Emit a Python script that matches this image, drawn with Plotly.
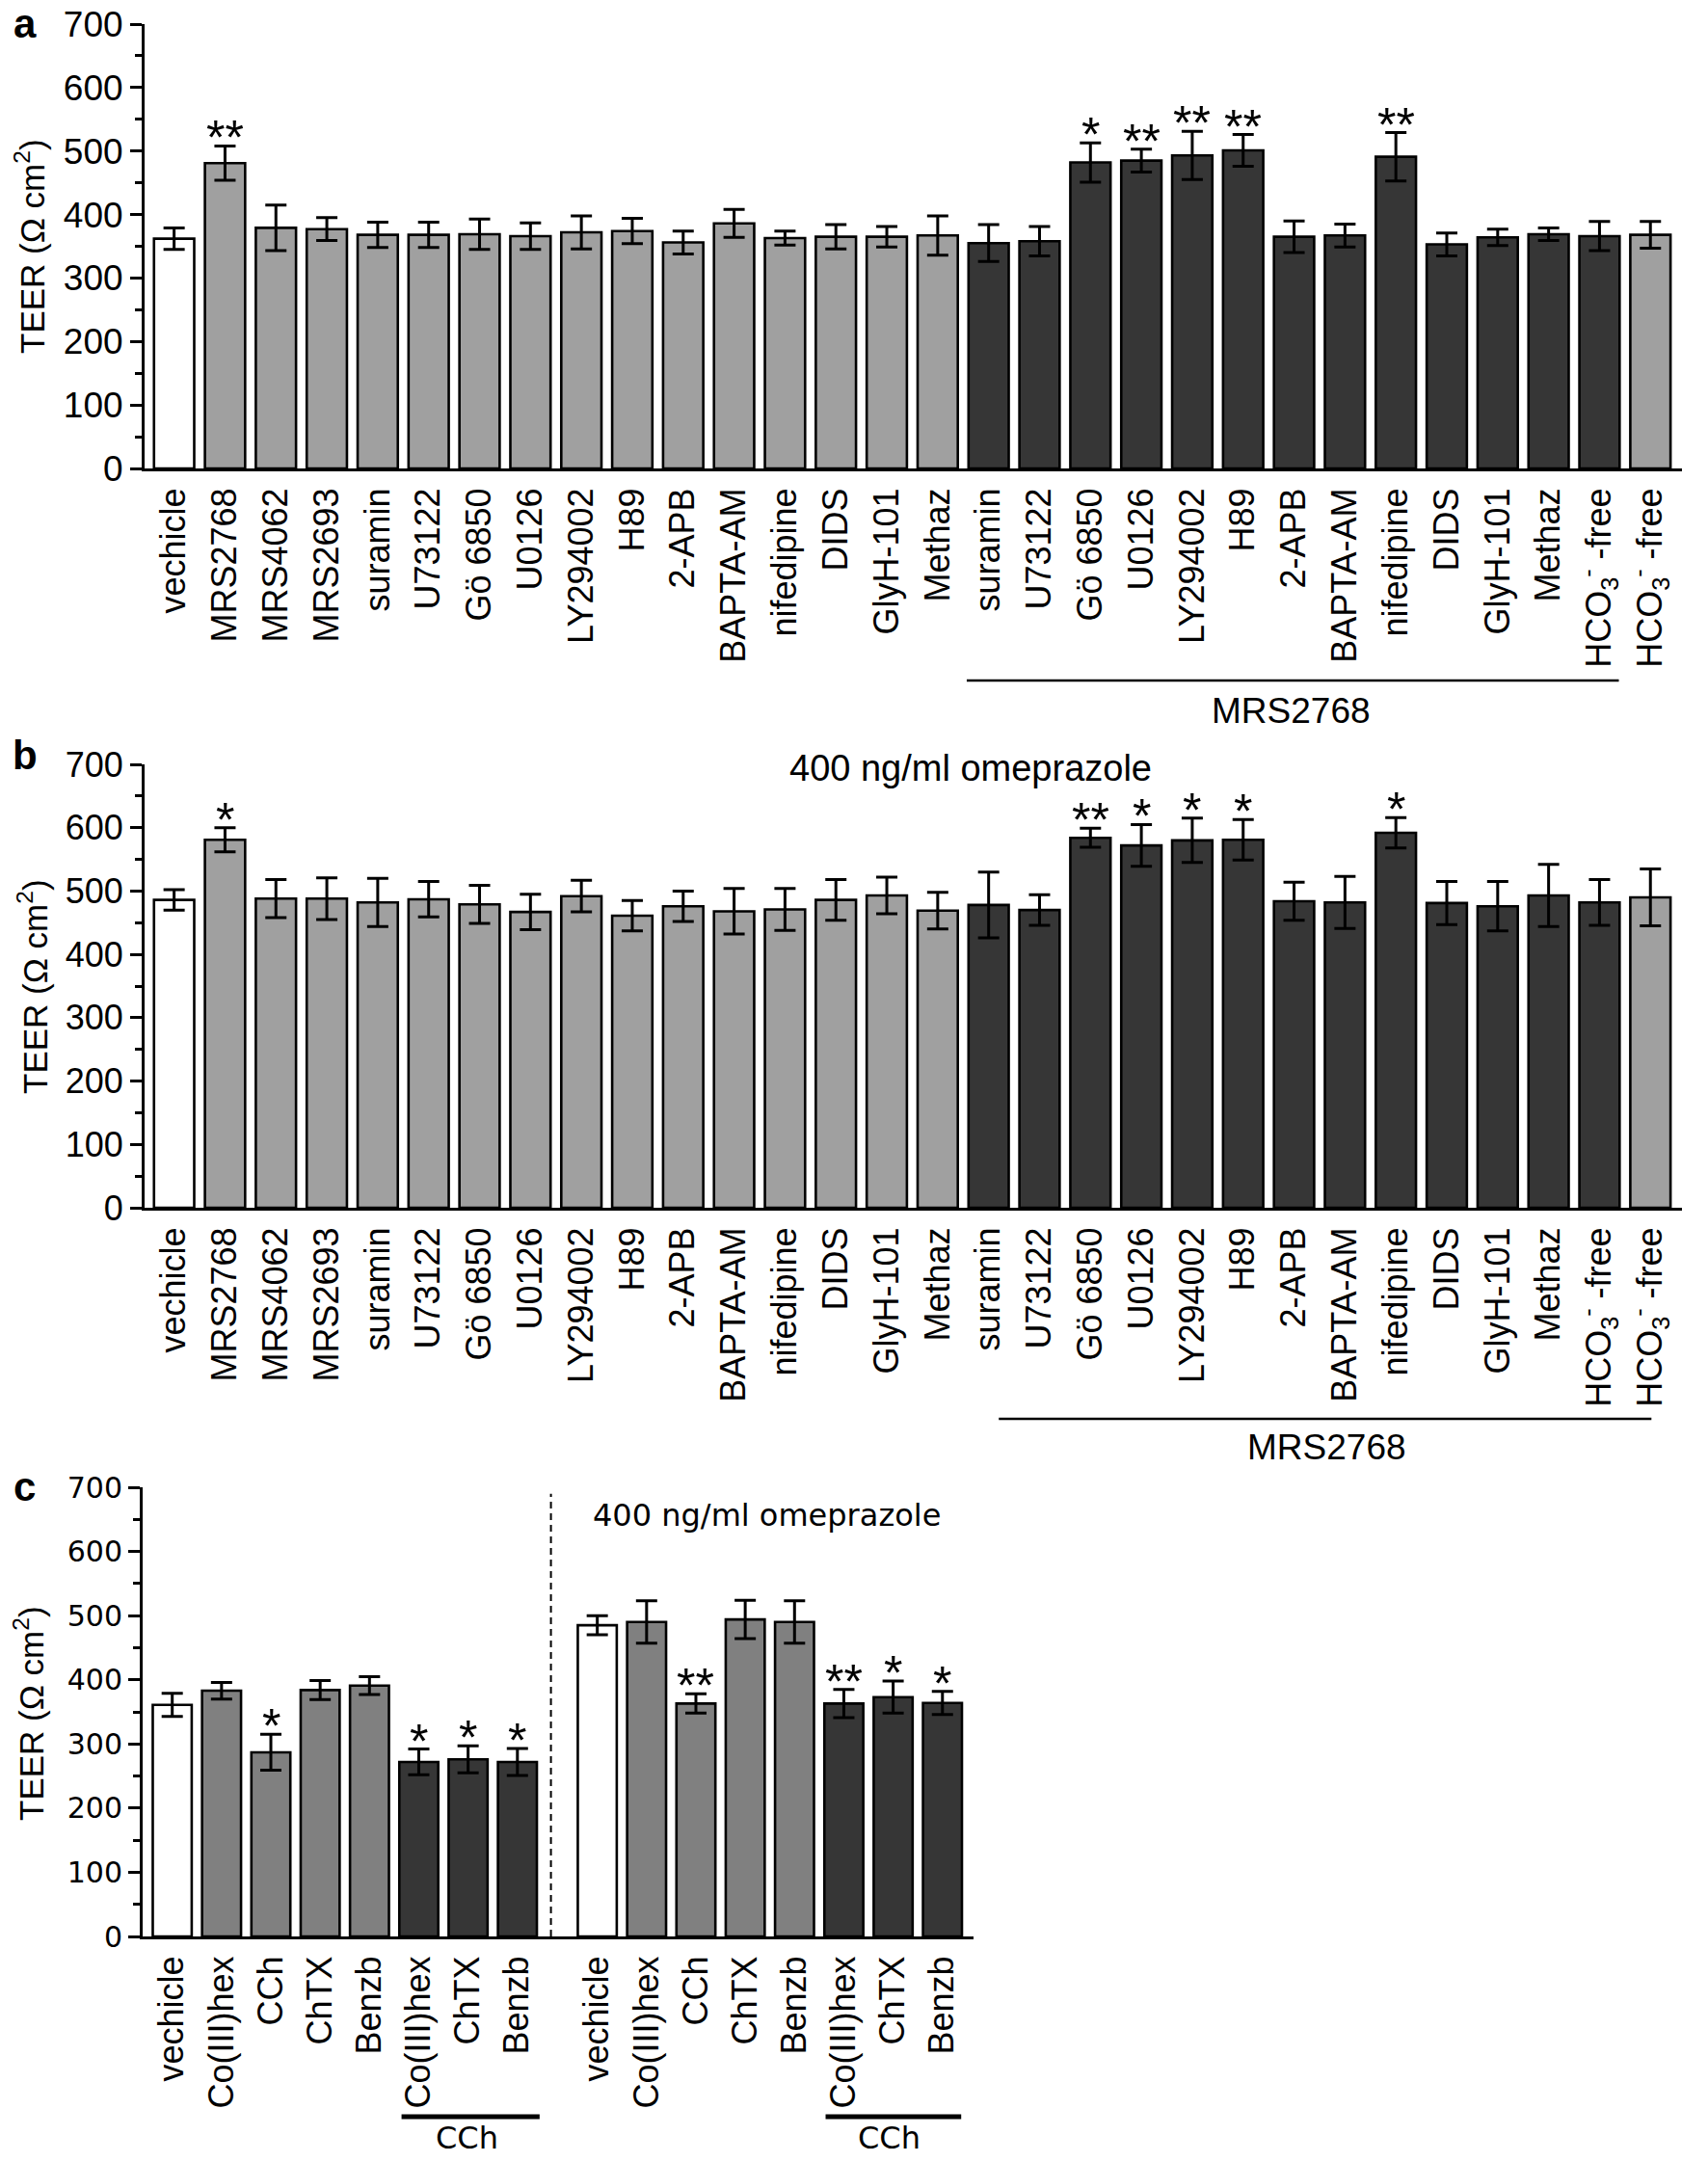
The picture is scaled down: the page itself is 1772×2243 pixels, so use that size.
import plotly.graph_objects as go

# ---------------- data ----------------
cats_ab = ["vechicle", "MRS2768", "MRS4062", "MRS2693", "suramin", "U73122", "Gö 6850",
           "U0126", "LY294002", "H89", "2-APB", "BAPTA-AM", "nifedipine", "DIDS",
           "GlyH-101", "Methaz",
           "suramin", "U73122", "Gö 6850", "U0126", "LY294002", "H89", "2-APB",
           "BAPTA-AM", "nifedipine", "DIDS", "GlyH-101", "Methaz",
           "HCO<sub>3</sub><sup>-</sup> -free", "HCO<sub>3</sub><sup>-</sup> -free"]
group_ab = ["ctrl"] + ["single"] * 15 + ["mrs"] * 13 + ["single"]

teer_a = [362, 481, 379, 377, 368, 368, 369, 366, 372, 374, 356, 386, 363, 365, 365, 367,
          355, 358, 482, 485, 493, 501, 365, 367, 491, 353, 364, 369, 366, 368]
sem_a = [17, 27, 36, 18, 20, 20, 24, 21, 26, 20, 18, 22, 11, 19, 16, 31,
         29, 23, 31, 18, 38, 25, 25, 18, 38, 18, 13, 10, 23, 21]
sig_a = {1: "**", 18: "*", 19: "**", 20: "**", 21: "**", 24: "**"}

teer_b = [486, 581, 488, 488, 482, 487, 479, 467, 492, 461, 476, 468, 471, 486, 493, 469,
          478, 470, 584, 572, 580, 581, 484, 482, 592, 481, 476, 493, 482, 490]
sem_b = [16, 19, 30, 33, 38, 28, 30, 28, 25, 24, 24, 36, 33, 32, 29, 29,
         52, 24, 15, 33, 35, 32, 30, 41, 24, 34, 39, 49, 36, 45]
sig_b = {1: "*", 18: "**", 19: "*", 20: "*", 21: "*", 24: "*"}

cats_c = ["vechicle", "Co(III)hex", "CCh", "ChTX", "Benzb", "Co(III)hex", "ChTX", "Benzb"]
group_c = ["ctrl", "mid", "mid", "mid", "mid", "mrs", "mrs", "mrs"]
teer_c1 = [361, 383, 287, 384, 391, 272, 276, 272]
sem_c1 = [18, 13, 28, 15, 14, 20, 21, 21]
sig_c1 = {2: "*", 5: "*", 6: "*", 7: "*"}
teer_c2 = [485, 490, 363, 494, 490, 363, 373, 364]
sem_c2 = [15, 33, 15, 30, 33, 22, 25, 18]
sig_c2 = {2: "**", 5: "**", 6: "*", 7: "*"}

# ---------------- style ----------------
W, H = 1772, 2243
FONT = "Liberation Sans, Arial, sans-serif"
FONT_C = "DejaVu Sans, Verdana, sans-serif"
COL = {"ctrl": "#ffffff", "single": "#a0a0a0", "mid": "#808080", "mrs": "#363636"}
GROUP2_OFFSET = 8.62


def px_x(p):
    return p / W


def px_y(p):
    return 1 - p / H


fig = go.Figure()


def add_bars(x, y, e, groups, xa, ya):
    fig.add_trace(go.Bar(
        x=x, y=y, xaxis=xa, yaxis=ya, width=0.79,
        marker=dict(color=[COL[g] for g in groups], line=dict(color="black", width=2.6)),
        error_y=dict(type="data", array=e, visible=True, color="black", thickness=3, width=11),
        showlegend=False, hoverinfo="skip"))


def add_stars(x, y, e, sig, xa, ya, size=50):
    for i, s in sig.items():
        fig.add_annotation(x=x[i], y=y[i] + e[i], xref=xa, yref=ya, text=s, showarrow=False,
                           yanchor="bottom", yshift=-22,
                           font=dict(family=FONT, size=size, color="black"))


xa_idx = list(range(len(cats_ab)))
add_bars(xa_idx, teer_a, sem_a, group_ab, "x", "y")
add_stars(xa_idx, teer_a, sem_a, sig_a, "x", "y")
add_bars(xa_idx, teer_b, sem_b, group_ab, "x2", "y2")
add_stars(xa_idx, teer_b, sem_b, sig_b, "x2", "y2")

xc1 = list(range(len(cats_c)))
xc2 = [i + GROUP2_OFFSET for i in range(len(cats_c))]
add_bars(xc1, teer_c1, sem_c1, group_c, "x3", "y3")
add_stars(xc1, teer_c1, sem_c1, sig_c1, "x3", "y3")
add_bars(xc2, teer_c2, sem_c2, group_c, "x3", "y3")
add_stars(xc2, teer_c2, sem_c2, sig_c2, "x3", "y3")

yticks = [0, 100, 200, 300, 400, 500, 600, 700]


def yax(dom, size, family, anchor):
    return dict(domain=dom, range=[0, 700], anchor=anchor, automargin=False,
                showline=True, linewidth=3, linecolor="black",
                ticks="outside", ticklen=12, tickwidth=3, tickcolor="black",
                tickvals=yticks, ticktext=[str(v) for v in yticks],
                minor=dict(tickvals=[50, 150, 250, 350, 450, 550, 650], ticks="outside",
                           ticklen=7, tickwidth=3, tickcolor="black"),
                tickfont=dict(family=family, size=size, color="black"),
                showgrid=False, zeroline=False, fixedrange=True)


def xax(dom, rng, anchor, tv, tt):
    return dict(domain=dom, range=rng, anchor=anchor, automargin=False, showline=True,
                linewidth=3, linecolor="black", ticks="", tickangle=-90, tickmode="array",
                tickvals=tv, ticktext=tt, ticklabelstandoff=3,
                tickfont=dict(family=FONT, size=36, color="black"),
                showgrid=False, zeroline=False, fixedrange=True)


fig.update_layout(
    width=W, height=H, margin=dict(l=0, r=0, t=0, b=0, pad=0), autosize=False,
    paper_bgcolor="white", plot_bgcolor="rgba(0,0,0,0)",
    bargap=0.21, font=dict(family=FONT, color="black"),
    xaxis=xax([px_x(150), px_x(1745)], [-0.58, 29.62], "y", xa_idx, cats_ab),
    yaxis=yax([px_y(486), px_y(25)], 37, FONT, "x"),
    xaxis2=xax([px_x(150), px_x(1745)], [-0.58, 29.62], "y2", xa_idx, cats_ab),
    yaxis2=yax([px_y(1253), px_y(793)], 36, FONT, "x2"),
    xaxis3=xax([px_x(148), px_x(1010)], [-0.6, 16.25], "y3", xc1 + xc2, cats_c + cats_c),
    yaxis3=yax([px_y(2009), px_y(1543)], 30, FONT_C, "x3"),
)

# y-axis titles
for cx, cy in [(31, 256), (34, 1024), (30, 1778)]:
    fig.add_annotation(x=px_x(cx), y=px_y(cy), xref="paper", yref="paper",
                       text="TEER (Ω cm<sup>2</sup>)", textangle=-90, showarrow=False,
                       xanchor="center", yanchor="middle",
                       font=dict(family=FONT, size=35, color="black"))

# panel letters
for letter, cx, cy, anchor in [("a", 26, 0, "top"), ("b", 26, 783, "middle"),
                               ("c", 25, 1543, "middle")]:
    fig.add_annotation(x=px_x(cx), y=px_y(cy), xref="paper", yref="paper",
                       text="<b>" + letter + "</b>", showarrow=False,
                       xanchor="center", yanchor=anchor, borderpad=0,
                       font=dict(family=FONT, size=42, color="black"))

# omeprazole labels
fig.add_annotation(x=px_x(1007), y=px_y(797), xref="paper", yref="paper",
                   text="400 ng/ml omeprazole", showarrow=False, xanchor="center",
                   yanchor="middle", font=dict(family=FONT, size=38, color="black"))
fig.add_annotation(x=px_x(795), y=px_y(1572), xref="paper", yref="paper",
                   text="400 ng/ml omeprazole", showarrow=False, xanchor="center",
                   yanchor="middle", font=dict(family=FONT_C, size=32, color="black"))

# brackets under labels
brackets = [("x", 15.57, 28.38, 706, 2.5, "MRS2768", 21.95, 737, FONT, 37),
            ("x2", 16.2, 29.02, 1472, 2.5, "MRS2768", 22.64, 1501, FONT, 37),
            ("x3", 4.65, 7.45, 2196, 5, "CCh", 5.98, 2218, FONT_C, 32),
            ("x3", 13.25, 16.0, 2196, 5, "CCh", 14.54, 2218, FONT_C, 32)]
for xr, x0, x1, ly, lw, txt, tx, ty, fam, fs in brackets:
    fig.add_shape(type="line", xref=xr, yref="paper", x0=x0, x1=x1,
                  y0=px_y(ly), y1=px_y(ly), line=dict(color="black", width=lw))
    fig.add_annotation(x=tx, y=px_y(ty), xref=xr, yref="paper", text=txt, showarrow=False,
                       xanchor="center", yanchor="middle", borderpad=0,
                       font=dict(family=fam, size=fs, color="black"))

# dashed separator in panel c
fig.add_shape(type="line", xref="x3", yref="y3", x0=7.68, x1=7.68, y0=0, y1=690,
              line=dict(color="black", width=2, dash="7px,5px"))

fig.write_html("out.html", config={"displayModeBar": False, "staticPlot": True},
               post_script="document.body.style.margin='0px';")
